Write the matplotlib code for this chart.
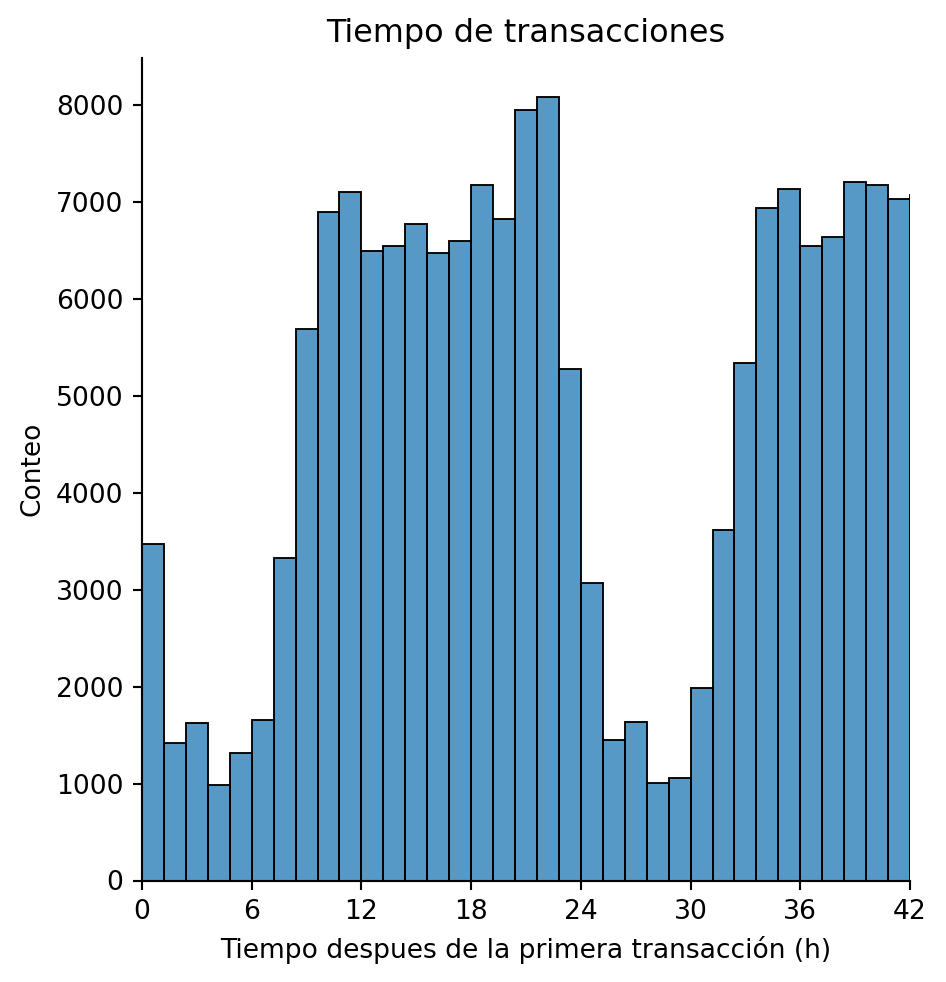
import matplotlib
matplotlib.use("Agg")
import matplotlib.pyplot as plt
import numpy as np

# Counts per 1.2 h bin (last bin is cut by xlim)
counts = [
    3469, 1421, 1627, 985, 1314, 1658, 3325, 5686, 6897, 7103,
    6490, 6544, 6768, 6469, 6593, 7170, 6820, 7943, 8080, 5273,
    3070, 1448, 1631, 1008, 1057, 1988, 3613, 5338, 6933, 7129,
    6541, 6634, 7201, 7170, 7026, 7074,
]
bin_width = 1.2
x_ticks = [0, 6, 12, 18, 24, 30, 36, 42]

DPI = 191
fig = plt.figure(figsize=(946 / DPI, 982 / DPI), dpi=DPI)
ax = fig.add_axes([142 / 946, 1 - 880.5 / 982, 768 / 946, (880.5 - 58) / 982])

edges = np.arange(len(counts)) * bin_width
ax.bar(edges, counts, width=bin_width, align="edge",
       color="#1f77b4", alpha=0.75, edgecolor="none", linewidth=0)
ax.bar(edges, counts, width=bin_width, align="edge",
       facecolor="none", edgecolor="black", linewidth=0.7)

ax.set_xlim(0, 42)
ax.set_xticks(x_ticks)
ax.set_ylim(0, max(counts) * 1.05)
ax.spines["top"].set_visible(False)
ax.spines["right"].set_visible(False)

ax.set_title("Tiempo de transacciones", fontsize=12)
ax.set_xlabel("Tiempo despues de la primera transacción (h)")
ax.set_ylabel("Conteo")

fig.savefig("out.png", dpi=DPI)
